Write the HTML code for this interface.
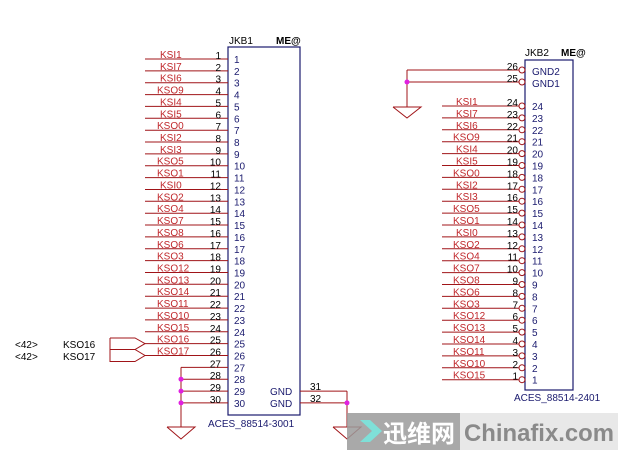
<!DOCTYPE html>
<html><head><meta charset="utf-8"><style>
html,body{margin:0;padding:0;background:#fff;}
svg{display:block;font-family:"Liberation Sans",sans-serif;}
.r{fill:#c0282c;font-size:10px;}
.n{fill:#000;font-size:10px;}
.b{fill:#1a1a6e;font-size:10px;}
</style></head><body>
<svg width="624" height="457" viewBox="0 0 624 457" xmlns="http://www.w3.org/2000/svg">
<rect x="228" y="47" width="72" height="368" fill="none" stroke="#1a1a6e" stroke-width="1.2"/>
<text x="229" y="44" class="n" font-size="10">JKB1</text>
<text x="276" y="44" class="n" font-weight="bold">ME@</text>
<text x="208" y="427" class="b">ACES_88514-3001</text>
<g stroke="#a01418" stroke-width="1">
<line x1="145" y1="59" x2="228" y2="59"/><line x1="145" y1="70.9" x2="228" y2="70.9"/><line x1="145" y1="82.7" x2="228" y2="82.7"/><line x1="145" y1="94.6" x2="228" y2="94.6"/><line x1="145" y1="106.4" x2="228" y2="106.4"/><line x1="145" y1="118.3" x2="228" y2="118.3"/><line x1="145" y1="130.2" x2="228" y2="130.2"/><line x1="145" y1="142" x2="228" y2="142"/><line x1="145" y1="153.9" x2="228" y2="153.9"/><line x1="145" y1="165.7" x2="228" y2="165.7"/><line x1="145" y1="177.6" x2="228" y2="177.6"/><line x1="145" y1="189.5" x2="228" y2="189.5"/><line x1="145" y1="201.3" x2="228" y2="201.3"/><line x1="145" y1="213.2" x2="228" y2="213.2"/><line x1="145" y1="225" x2="228" y2="225"/><line x1="145" y1="236.9" x2="228" y2="236.9"/><line x1="145" y1="248.8" x2="228" y2="248.8"/><line x1="145" y1="260.6" x2="228" y2="260.6"/><line x1="145" y1="272.5" x2="228" y2="272.5"/><line x1="145" y1="284.3" x2="228" y2="284.3"/><line x1="145" y1="296.2" x2="228" y2="296.2"/><line x1="145" y1="308.1" x2="228" y2="308.1"/><line x1="145" y1="319.9" x2="228" y2="319.9"/><line x1="145" y1="331.8" x2="228" y2="331.8"/><line x1="145" y1="343.6" x2="228" y2="343.6"/><line x1="145" y1="355.5" x2="228" y2="355.5"/>
<line x1="181" y1="367.4" x2="228" y2="367.4"/><line x1="181" y1="379.2" x2="228" y2="379.2"/><line x1="181" y1="391.1" x2="228" y2="391.1"/><line x1="181" y1="402.9" x2="228" y2="402.9"/>
<line x1="181" y1="367.4" x2="181" y2="427"/>
<polyline points="167,427 195,427 181,439 167,427" fill="none"/>
<line x1="300" y1="391.1" x2="347" y2="391.1"/><line x1="300" y1="402.9" x2="347" y2="402.9"/>
<line x1="347" y1="391.1" x2="347" y2="427"/>
<polyline points="333,427 361,427 347,439 333,427" fill="none"/>
<polyline points="110,338 135,338 145,343.6 135,349.5 110,349.5 110,338" fill="none"/>
<polyline points="110,349.5 135,349.5 145,355.5 135,361.5 110,361.5 110,349.5" fill="none"/>
</g>
<g fill="#e020e0"><circle cx="181" cy="379.2" r="2.5"/><circle cx="181" cy="391.1" r="2.5"/><circle cx="181" cy="402.9" r="2.5"/><circle cx="347" cy="402.9" r="2.5"/></g>
<text x="15" y="348" class="n">&lt;42&gt;</text><text x="63" y="348" class="n">KSO16</text>
<text x="15" y="360" class="n">&lt;42&gt;</text><text x="63" y="360" class="n">KSO17</text>
<g class="r">
<text x="160" y="58">KSI1</text><text x="160" y="69.9">KSI7</text><text x="160" y="81.7">KSI6</text><text x="157" y="93.6">KSO9</text><text x="160" y="105.4">KSI4</text><text x="160" y="117.3">KSI5</text><text x="157" y="129.2">KSO0</text><text x="160" y="141">KSI2</text><text x="160" y="152.9">KSI3</text><text x="157" y="164.7">KSO5</text><text x="157" y="176.6">KSO1</text><text x="160" y="188.5">KSI0</text><text x="157" y="200.3">KSO2</text><text x="157" y="212.2">KSO4</text><text x="157" y="224">KSO7</text><text x="157" y="235.9">KSO8</text><text x="157" y="247.8">KSO6</text><text x="157" y="259.6">KSO3</text><text x="157" y="271.5">KSO12</text><text x="157" y="283.3">KSO13</text><text x="157" y="295.2">KSO14</text><text x="157" y="307.1">KSO11</text><text x="157" y="318.9">KSO10</text><text x="157" y="330.8">KSO15</text><text x="157" y="342.6">KSO16</text><text x="157" y="354.5">KSO17</text>
</g>
<g class="n" text-anchor="end">
<text x="221" y="59">1</text><text x="221" y="70.9">2</text><text x="221" y="82.7">3</text><text x="221" y="94.6">4</text><text x="221" y="106.4">5</text><text x="221" y="118.3">6</text><text x="221" y="130.2">7</text><text x="221" y="142">8</text><text x="221" y="153.9">9</text><text x="221" y="165.7">10</text><text x="221" y="177.6">11</text><text x="221" y="189.5">12</text><text x="221" y="201.3">13</text><text x="221" y="213.2">14</text><text x="221" y="225">15</text><text x="221" y="236.9">16</text><text x="221" y="248.8">17</text><text x="221" y="260.6">18</text><text x="221" y="272.5">19</text><text x="221" y="284.3">20</text><text x="221" y="296.2">21</text><text x="221" y="308.1">22</text><text x="221" y="319.9">23</text><text x="221" y="331.8">24</text><text x="221" y="343.6">25</text><text x="221" y="355.5">26</text><text x="221" y="367.4">27</text><text x="221" y="379.2">28</text><text x="221" y="391.1">29</text><text x="221" y="402.9">30</text>
</g>
<g class="b">
<text x="234" y="63">1</text><text x="234" y="74.9">2</text><text x="234" y="86.7">3</text><text x="234" y="98.6">4</text><text x="234" y="110.4">5</text><text x="234" y="122.3">6</text><text x="234" y="134.2">7</text><text x="234" y="146">8</text><text x="234" y="157.9">9</text><text x="234" y="169.7">10</text><text x="234" y="181.6">11</text><text x="234" y="193.5">12</text><text x="234" y="205.3">13</text><text x="234" y="217.2">14</text><text x="234" y="229">15</text><text x="234" y="240.9">16</text><text x="234" y="252.8">17</text><text x="234" y="264.6">18</text><text x="234" y="276.5">19</text><text x="234" y="288.3">20</text><text x="234" y="300.2">21</text><text x="234" y="312.1">22</text><text x="234" y="323.9">23</text><text x="234" y="335.8">24</text><text x="234" y="347.6">25</text><text x="234" y="359.5">26</text><text x="234" y="371.4">27</text><text x="234" y="383.2">28</text><text x="234" y="395.1">29</text><text x="234" y="406.9">30</text>
<text x="270" y="395.1">GND</text><text x="270" y="406.9">GND</text>
</g>
<text x="310" y="390" class="n">31</text><text x="310" y="402" class="n">32</text>

<rect x="525" y="60" width="48" height="330" fill="none" stroke="#1a1a6e" stroke-width="1.2"/>
<text x="525" y="56" class="n">JKB2</text>
<text x="561" y="56" class="n" font-weight="bold">ME@</text>
<text x="514" y="401" class="b">ACES_88514-2401</text>
<g stroke="#a01418" stroke-width="1" fill="none">
<line x1="407" y1="70" x2="519" y2="70"/><line x1="407" y1="82" x2="519" y2="82"/>
<line x1="407" y1="70" x2="407" y2="107"/>
<polyline points="393,107 421,107 407,118 393,107"/>
<line x1="442" y1="106" x2="519" y2="106"/><line x1="442" y1="117.9" x2="519" y2="117.9"/><line x1="442" y1="129.8" x2="519" y2="129.8"/><line x1="442" y1="141.7" x2="519" y2="141.7"/><line x1="442" y1="153.6" x2="519" y2="153.6"/><line x1="442" y1="165.5" x2="519" y2="165.5"/><line x1="442" y1="177.4" x2="519" y2="177.4"/><line x1="442" y1="189.3" x2="519" y2="189.3"/><line x1="442" y1="201.2" x2="519" y2="201.2"/><line x1="442" y1="213.1" x2="519" y2="213.1"/><line x1="442" y1="225" x2="519" y2="225"/><line x1="442" y1="236.9" x2="519" y2="236.9"/><line x1="442" y1="248.8" x2="519" y2="248.8"/><line x1="442" y1="260.7" x2="519" y2="260.7"/><line x1="442" y1="272.6" x2="519" y2="272.6"/><line x1="442" y1="284.5" x2="519" y2="284.5"/><line x1="442" y1="296.4" x2="519" y2="296.4"/><line x1="442" y1="308.3" x2="519" y2="308.3"/><line x1="442" y1="320.2" x2="519" y2="320.2"/><line x1="442" y1="332.1" x2="519" y2="332.1"/><line x1="442" y1="344" x2="519" y2="344"/><line x1="442" y1="355.9" x2="519" y2="355.9"/><line x1="442" y1="367.8" x2="519" y2="367.8"/><line x1="442" y1="379.7" x2="519" y2="379.7"/>
<circle cx="522" cy="70" r="3"/><circle cx="522" cy="82" r="3"/>
<circle cx="522" cy="106" r="3"/><circle cx="522" cy="117.9" r="3"/><circle cx="522" cy="129.8" r="3"/><circle cx="522" cy="141.7" r="3"/><circle cx="522" cy="153.6" r="3"/><circle cx="522" cy="165.5" r="3"/><circle cx="522" cy="177.4" r="3"/><circle cx="522" cy="189.3" r="3"/><circle cx="522" cy="201.2" r="3"/><circle cx="522" cy="213.1" r="3"/><circle cx="522" cy="225" r="3"/><circle cx="522" cy="236.9" r="3"/><circle cx="522" cy="248.8" r="3"/><circle cx="522" cy="260.7" r="3"/><circle cx="522" cy="272.6" r="3"/><circle cx="522" cy="284.5" r="3"/><circle cx="522" cy="296.4" r="3"/><circle cx="522" cy="308.3" r="3"/><circle cx="522" cy="320.2" r="3"/><circle cx="522" cy="332.1" r="3"/><circle cx="522" cy="344" r="3"/><circle cx="522" cy="355.9" r="3"/><circle cx="522" cy="367.8" r="3"/><circle cx="522" cy="379.7" r="3"/>
</g>
<circle cx="407" cy="82" r="2.5" fill="#e020e0"/>
<g class="r">
<text x="456" y="105">KSI1</text><text x="456" y="116.9">KSI7</text><text x="456" y="128.8">KSI6</text><text x="453" y="140.7">KSO9</text><text x="456" y="152.6">KSI4</text><text x="456" y="164.5">KSI5</text><text x="453" y="176.4">KSO0</text><text x="456" y="188.3">KSI2</text><text x="456" y="200.2">KSI3</text><text x="453" y="212.1">KSO5</text><text x="453" y="224">KSO1</text><text x="456" y="235.9">KSI0</text><text x="453" y="247.8">KSO2</text><text x="453" y="259.7">KSO4</text><text x="453" y="271.6">KSO7</text><text x="453" y="283.5">KSO8</text><text x="453" y="295.4">KSO6</text><text x="453" y="307.3">KSO3</text><text x="453" y="319.2">KSO12</text><text x="453" y="331.1">KSO13</text><text x="453" y="343">KSO14</text><text x="453" y="354.9">KSO11</text><text x="453" y="366.8">KSO10</text><text x="453" y="378.7">KSO15</text>
</g>
<g class="n" text-anchor="end">
<text x="518" y="70">26</text><text x="518" y="82">25</text>
<text x="518" y="106">24</text><text x="518" y="117.9">23</text><text x="518" y="129.8">22</text><text x="518" y="141.7">21</text><text x="518" y="153.6">20</text><text x="518" y="165.5">19</text><text x="518" y="177.4">18</text><text x="518" y="189.3">17</text><text x="518" y="201.2">16</text><text x="518" y="213.1">15</text><text x="518" y="225">14</text><text x="518" y="236.9">13</text><text x="518" y="248.8">12</text><text x="518" y="260.7">11</text><text x="518" y="272.6">10</text><text x="518" y="284.5">9</text><text x="518" y="296.4">8</text><text x="518" y="308.3">7</text><text x="518" y="320.2">6</text><text x="518" y="332.1">5</text><text x="518" y="344">4</text><text x="518" y="355.9">3</text><text x="518" y="367.8">2</text><text x="518" y="379.7">1</text>
</g>
<g class="b">
<text x="532" y="75">GND2</text><text x="532" y="87">GND1</text>
<text x="532" y="110">24</text><text x="532" y="121.9">23</text><text x="532" y="133.8">22</text><text x="532" y="145.7">21</text><text x="532" y="157.6">20</text><text x="532" y="169.5">19</text><text x="532" y="181.4">18</text><text x="532" y="193.3">17</text><text x="532" y="205.2">16</text><text x="532" y="217.1">15</text><text x="532" y="229">14</text><text x="532" y="240.9">13</text><text x="532" y="252.8">12</text><text x="532" y="264.7">11</text><text x="532" y="276.6">10</text><text x="532" y="288.5">9</text><text x="532" y="300.4">8</text><text x="532" y="312.3">7</text><text x="532" y="324.2">6</text><text x="532" y="336.1">5</text><text x="532" y="348">4</text><text x="532" y="359.9">3</text><text x="532" y="371.8">2</text><text x="532" y="383.7">1</text>
</g>

<rect x="347" y="413" width="113" height="37" fill="#9a9a9a" opacity="0.85"/>
<rect x="460" y="413" width="158" height="37" fill="#e6e6e6" opacity="0.9"/>
<polygon points="360,420 370,420 382,431 370,442 360,442 372,431" fill="#7fe0d8"/>
<text x="383" y="442" fill="#fff" font-size="24" font-weight="bold" font-family="'Liberation Sans','Noto Sans CJK SC',sans-serif">迅维网</text>
<text x="464" y="441" fill="#8a8a8a" font-size="24" font-weight="bold" textLength="150" lengthAdjust="spacingAndGlyphs">Chinafix.com</text>
</svg>
</body></html>
